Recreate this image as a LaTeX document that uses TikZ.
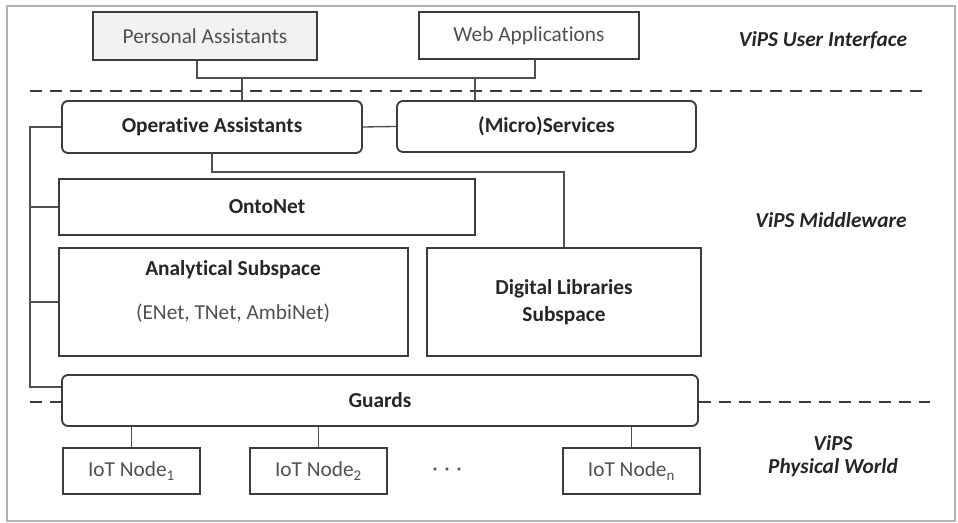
\documentclass[tikz,border=0pt]{standalone}
\usepackage{fontspec}
\setmainfont{Carlito}[Ligatures={NoCommon,NoRare}]
\usetikzlibrary{calc}
\definecolor{ln}{HTML}{3C3C3C}
\definecolor{tx}{HTML}{505050}
\definecolor{tb}{HTML}{262626}
\begin{document}
\begin{tikzpicture}[x=0.75pt,y=-0.75pt,
  every node/.style={font=\fontsize{16}{20}\selectfont},
  box/.style={draw=ln, line width=1.4pt, inner sep=0pt, fill=white},
  rbox/.style={box, rounded corners=4.5pt},
  bt/.style={font=\fontsize{16}{20}\selectfont\bfseries, text=tb},
  rt/.style={font=\fontsize{16}{20}\selectfont, text=tx},
  lab/.style={font=\fontsize{16}{20}\selectfont\bfseries\itshape, text=tb, align=center},
  conn/.style={draw=ln!90, line width=1pt},
  sepline/.style={draw=ln, line width=1.8pt, dash pattern=on 9pt off 6pt}]
\useasboundingbox (0,0) rectangle (958,523);
\draw[gray!60, line width=1pt] (7,6) rectangle (955,521);

% separators
\draw[sepline] (30,91) -- (928,91);

% top boxes
\node[box, fill=gray!10, minimum width=168pt, minimum height=36pt, rt] (pa) at (205,36) {Personal Assistants};
\node[box, minimum width=165pt, minimum height=35.25pt, rt] (wa) at (529,35.5) {Web Applications};

% middleware
\node[rbox, minimum width=225pt, minimum height=39pt, bt] (oa) at (212,127) {Operative Assistants};
\node[rbox, minimum width=224.25pt, minimum height=38.25pt, bt] (ms) at (546.5,126.5) {(Micro)Services};
\node[box, minimum width=312pt, minimum height=42pt, bt] (on) at (267,207) {OntoNet};
\node[box, minimum width=261.75pt, minimum height=81pt] (an) at (233.5,302) {};
\node[bt] (ant) at (233,270) {Analytical Subspace};
\node[rt] (ans) at (233,313) {(ENet, TNet, AmbiNet)};
\node[box, minimum width=205.5pt, minimum height=81pt, bt, align=center] (dl) at (564,302) {Digital Libraries\\Subspace};
\node[rbox, minimum width=477pt, minimum height=38.25pt, bt] (gd) at (380,400.5) {Guards};

% physical
\node[box, minimum width=102.75pt, minimum height=34.5pt, rt] (io1) at (131.5,471) {IoT Node\textsubscript{1}};
\node[box, minimum width=102.75pt, minimum height=34.5pt, rt] (io2) at (318.5,471) {IoT Node\textsubscript{2}};
\node[box, minimum width=102.75pt, minimum height=34.5pt, rt] (ion) at (631.5,471) {IoT Node\textsubscript{n}};
\node[rt] (dots) at (447,472) {·\hspace{5pt}·\hspace{5pt}·};

% lower separators
\draw[sepline] (30,402) -- (gd.west |- 0,402);
\draw[sepline] (gd.east |- 0,402) -- (930,402);

% layer labels
\node[lab] (l1) at (823,40) {ViPS User Interface};
\node[lab] (l2) at (831,220) {ViPS Middleware};
\node[lab] (l3) at (833,456) {ViPS\\[-3pt]Physical World};

% connectors UI
\coordinate (b1) at (197,78);
\coordinate (b2) at (535,78);
\coordinate (b3) at (242,78);
\coordinate (b4) at (475,78);
\draw[conn] (pa.south -| b1) -- (b1) -- (b2) -- (wa.south -| b2);
\draw[conn] (b3) -- (oa.north -| b3);
\draw[conn] (b4) -- (ms.north -| b4);
\draw[conn] (oa.east) -- (ms.west);

% OA to DL
\coordinate (c1) at (564,172);
\draw[conn] (oa.south) |- (c1) -- (dl.north);

% left bus
\coordinate (lt) at (30,127);
\coordinate (lb) at (30,387);
\draw[conn] (oa.west) -- (lt) -- (lb) -- (lb -| gd.west);
\draw[conn] (on.west) -- (on.west -| lt);
\draw[conn] (an.west) -- (an.west -| lt);

% guards to IoT
\draw[conn] (gd.south -| io1.north) -- (io1.north);
\draw[conn] (gd.south -| io2.north) -- (io2.north);
\draw[conn] (gd.south -| ion.north) -- (ion.north);
\end{tikzpicture}
\end{document}
